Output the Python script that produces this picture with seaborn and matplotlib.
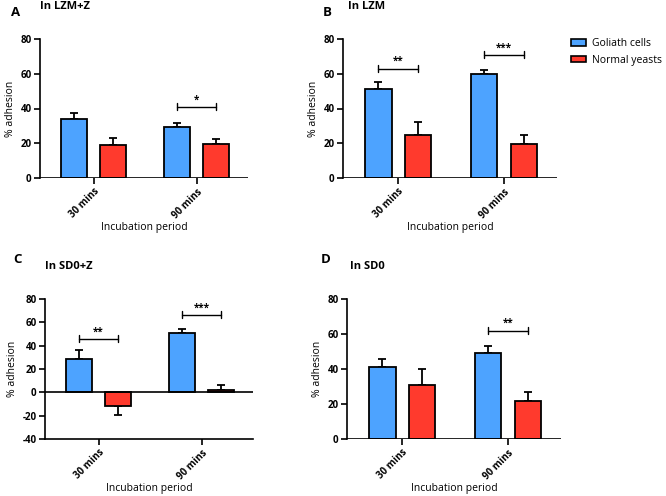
import numpy as np
import pandas as pd
import seaborn as sns
import matplotlib.pyplot as plt
from matplotlib.patches import Patch

# values
times = ["30 mins", "90 mins"]
groups = ["Goliath cells", "Normal yeasts"]

lzm_z_goliath = [34.0, 29.5]
lzm_z_normal = [19.0, 19.5]
lzm_z_goliath_err = [3.5, 2.0]
lzm_z_normal_err = [4.0, 3.0]

lzm_goliath = [51.5, 60.0]
lzm_normal = [25.0, 19.5]
lzm_goliath_err = [4.0, 2.0]
lzm_normal_err = [7.0, 5.5]

sd0_z_goliath = [29.0, 51.0]
sd0_z_normal = [-11.5, 2.0]
sd0_z_goliath_err = [7.5, 3.5]
sd0_z_normal_err = [7.5, 4.0]

sd0_goliath = [41.0, 49.0]
sd0_normal = [31.0, 22.0]
sd0_goliath_err = [5.0, 4.0]
sd0_normal_err = [9.0, 5.0]

# significance brackets: (time index, height, stars)
lzm_z_sig = [(1, 41, "*")]
lzm_sig = [(0, 63, "**"), (1, 71, "***")]
sd0_z_sig = [(0, 46, "**"), (1, 66.5, "***")]
sd0_sig = [(1, 62, "**")]

blue = "#4da3ff"
red = "#ff3a2d"

sns.set_theme(style="ticks")
plt.rcParams["font.family"] = ["Open Sans", "DejaVu Sans"]
plt.rcParams["axes.unicode_minus"] = False
plt.rcParams.update({
    "text.color": "black",
    "axes.labelcolor": "black",
    "xtick.color": "black",
    "ytick.color": "black",
    "axes.edgecolor": "black",
})

W, H = 666, 496


def panel(ax, letter, letter_xy, title, title_xy, gol, nor, gol_err, nor_err,
          sig, ylim, yticks):
    df = pd.DataFrame({
        "time": times * 2,
        "group": [groups[0]] * 2 + [groups[1]] * 2,
        "value": gol + nor,
    })
    sns.barplot(data=df, x="time", y="value", hue="group", order=times,
                hue_order=groups, palette=[blue, red], saturation=1,
                errorbar=None, width=0.75, gap=0.33, edgecolor="black",
                linewidth=1.3, legend=False, ax=ax, zorder=2)
    # one-sided error bars, drawn away from zero
    offs = [-0.1875, 0.1875]
    for k, (vals, errs) in enumerate([(gol, gol_err), (nor, nor_err)]):
        for i, (v, e) in enumerate(zip(vals, errs)):
            x = i + offs[k]
            yerr = [[e if v < 0 else 0], [0 if v < 0 else e]]
            ax.errorbar(x, v, yerr=yerr, color="black", capsize=3,
                        elinewidth=1.3, capthick=1.3, zorder=1)
    span = (ylim[1] - ylim[0]) * 0.025
    for i, h, stars in sig:
        x0, x1 = i + offs[0], i + offs[1]
        ax.plot([x0, x1], [h, h], color="black", lw=1)
        ax.plot([x0, x0], [h - span, h + span], color="black", lw=1)
        ax.plot([x1, x1], [h - span, h + span], color="black", lw=1)
        ax.text((x0 + x1) / 2, h + span * 0.4, stars, ha="center",
                va="bottom", fontsize=7, fontweight="bold")
    ax.axhline(0, color="black", lw=1.2, zorder=3)
    ax.set_ylim(*ylim)
    ax.set_yticks(yticks)
    ax.set_xlim(-0.52, 1.5)
    ax.set_xlabel("Incubation period", fontsize=7.5, labelpad=1)
    ax.set_ylabel("% adhesion", fontsize=7.5, labelpad=3)
    ax.tick_params(labelsize=7, width=1.2, length=4, pad=2)
    for lab in ax.get_yticklabels():
        lab.set_fontweight("bold")
    ax.set_xticks(range(2))
    ax.set_xticklabels(times, rotation=45, ha="right", rotation_mode="anchor",
                       fontweight="bold", fontsize=7)
    sns.despine(ax=ax)
    ax.spines["bottom"].set_visible(ylim[0] < 0)
    for s in ["left", "bottom"]:
        ax.spines[s].set_linewidth(1.2)
    fig.text(letter_xy[0] / W, 1 - letter_xy[1] / H, letter, fontsize=9.5,
             fontweight="bold", va="top")
    fig.text(title_xy[0] / W, 1 - title_xy[1] / H, title, fontsize=8,
             fontweight="bold", va="top")


fig = plt.figure(figsize=(6.66, 4.96), dpi=100)
axA = fig.add_axes([40 / W, 1 - 178 / H, 208 / W, 139 / H])
axB = fig.add_axes([343 / W, 1 - 178 / H, 214 / W, 139 / H])
axC = fig.add_axes([45 / W, 1 - 439 / H, 208 / W, 140 / H])
axD = fig.add_axes([347 / W, 1 - 439 / H, 214 / W, 140 / H])

panel(axA, "A", (11, 6), "In LZM+Z", (40, 1), lzm_z_goliath, lzm_z_normal,
      lzm_z_goliath_err, lzm_z_normal_err, lzm_z_sig, (0, 80),
      [0, 20, 40, 60, 80])
panel(axB, "B", (323, 6), "In LZM", (348, 1), lzm_goliath, lzm_normal,
      lzm_goliath_err, lzm_normal_err, lzm_sig, (0, 80), [0, 20, 40, 60, 80])
panel(axC, "C", (13, 253), "In SD0+Z", (45, 261), sd0_z_goliath, sd0_z_normal,
      sd0_z_goliath_err, sd0_z_normal_err, sd0_z_sig, (-40, 80),
      [-40, -20, 0, 20, 40, 60, 80])
panel(axD, "D", (321, 253), "In SD0", (350, 261), sd0_goliath, sd0_normal,
      sd0_goliath_err, sd0_normal_err, sd0_sig, (0, 80), [0, 20, 40, 60, 80])

handles = [Patch(facecolor=blue, edgecolor="black", linewidth=1.2),
           Patch(facecolor=red, edgecolor="black", linewidth=1.2)]
fig.legend(handles, groups, loc="upper left",
           bbox_to_anchor=(571 / W, 1 - 38 / H), frameon=False, fontsize=7.5,
           handlelength=1.45, handleheight=0.6, handletextpad=0.6,
           labelspacing=0.55, borderpad=0, borderaxespad=0)

fig.savefig("out.png", dpi=100)
